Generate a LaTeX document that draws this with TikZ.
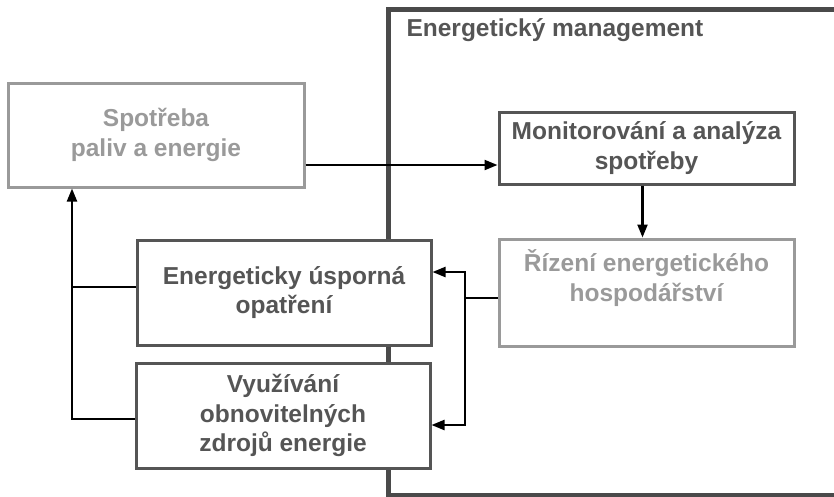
\documentclass[tikz,border=0pt]{standalone}
\usepackage{fontspec}
\setmainfont{Liberation Sans}
\usetikzlibrary{arrows.meta}
\definecolor{darkg}{HTML}{555555}
\definecolor{lightg}{HTML}{9A9A9A}
\definecolor{frameg}{HTML}{4A4A4A}
\tikzset{
  boxdark/.style={draw=darkg, line width=3pt, fill=white, rectangle, align=center,
    text=darkg, font=\fontsize{24.5}{29.5}\selectfont\bfseries, inner sep=0pt},
  boxlight/.style={boxdark, draw=lightg, text=lightg},
  arr/.style={line width=2.2pt, -{Triangle[length=13pt,width=10pt]}},
  ln/.style={line width=2.2pt},
  frame/.style={draw=frameg, line width=5pt}
}
\begin{document}
\begin{tikzpicture}[x=1pt,y=-1pt]
\useasboundingbox (0,0) rectangle (834,496);
\clip (0,0) rectangle (834,496);
\draw[frame] (388,9.5) rectangle (860,495);
\node[anchor=west, text=darkg, font=\fontsize{24.5}{28}\selectfont\bfseries] (title) at (403,30) {Energetický management};
\node[boxlight, minimum width=296pt, minimum height=104pt] (sp) at (156,135) {Spotřeba\\paliv a energie};
\node[boxdark, minimum width=295pt, minimum height=72pt] (mon) at (646.5,148) {Monitorování a analýza\\spotřeby};
\node[boxlight, minimum width=295pt, minimum height=107pt] (riz) at (646.5,292.5) {Řízení energetického\\hospodářství\\[4pt]};
\node[boxdark, minimum width=294pt, minimum height=105pt] (eu) at (284,292.5) {Energeticky úsporná\\opatření};
\node[boxdark, minimum width=294pt, minimum height=105pt] (vy) at (283,415.5) {Využívání\\obnovitelných\\zdrojů energie};
% connectors
\draw[arr] ([yshift=-30pt]sp.east) coordinate (a1) -- (a1 -| mon.west);
\draw[arr] ([xshift=-4pt]mon.south) coordinate (a2) -- (a2 |- riz.north);
\coordinate (j) at (465,298);
\draw[ln] (riz.west |- j) -- (j);
\draw[arr] (j) |- ([yshift=20.5pt]eu.east);
\draw[arr] (j) |- ([yshift=-9.5pt]vy.east);
\coordinate (lx) at (72,0);
\draw[arr] ([yshift=-3.5pt]vy.west) -| (lx |- sp.south);
\draw[ln] ([yshift=5.5pt]eu.west) coordinate (e1) -- (e1 -| lx);
\end{tikzpicture}
\end{document}
